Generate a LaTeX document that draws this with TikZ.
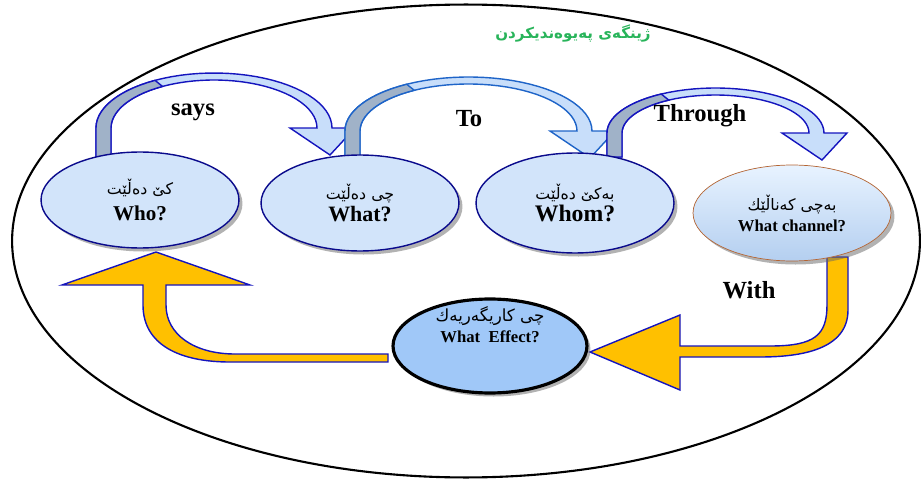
\documentclass[tikz,border=0pt]{standalone}
\usepackage{fontspec}
\setmainfont{Liberation Serif}
\newfontfamily\kurdish[Script=Arabic]{DejaVu Sans}
\TeXXeTstate=1
\usepackage{tikz}
\usetikzlibrary{shapes.geometric,shadows}

\definecolor{nodeblue}{RGB}{210,228,250}
\definecolor{effectblue}{RGB}{160,200,248}
\definecolor{navy}{RGB}{10,10,140}
\definecolor{arrowblue}{RGB}{20,20,190}
\definecolor{arrowsteel}{RGB}{30,100,200}
\definecolor{headblue}{RGB}{200,222,250}
\definecolor{stemgray}{RGB}{160,178,200}
\definecolor{gold}{RGB}{255,192,0}
\definecolor{titlegreen}{RGB}{40,180,90}
\definecolor{brownedge}{RGB}{180,100,50}
\definecolor{glosstop}{RGB}{232,243,255}
\definecolor{glossbottom}{RGB}{180,207,240}

\tikzset{
  stage/.style={ellipse, draw=navy, thick, fill=nodeblue, minimum width=3.96cm,
    minimum height=1.92cm, align=center, inner sep=0pt,
    drop shadow={shadow xshift=2pt, shadow yshift=-2pt, fill=black!60, opacity=0.5}},
  lab/.style={font=\fontsize{14}{16}\selectfont\bfseries},
  bluearrow/.style={thick, fill=headblue},
  goldarrow/.style={draw=arrowblue, thick, fill=gold},
}

\begin{document}
\begin{tikzpicture}[x=0.02cm,y=-0.02cm]
\useasboundingbox (0,0) rectangle (921,480);
%frame
\node[draw, line width=1.2pt, ellipse, minimum width=18.16cm, minimum height=9.46cm, inner sep=0pt] (frame) at (466,241) {};
\node[text=titlegreen, font=\kurdish\fontsize{8.6}{11}\selectfont\bfseries] (title) at (573,33) {\beginR ژینگەی پەیوەندیکردن\endR};
%top arrows
\foreach \l/\t/\h/\b/\col in {96/330/73/128/arrowblue, 345/590/77/131/arrowsteel, 607/822/88/133/arrowblue} {
  \pgfmathsetmacro\cx{(\l+\t+2)/2}
  \pgfmathsetmacro\rx{(\t+2-\l)/2}
  \pgfmathsetmacro\ry{\b-\h}
  \draw[bluearrow, draw=\col] (\l,157) -- (\l,\b)
    -- plot[domain=180:360, samples=40] ({\cx+\rx*cos(\x)},{\b+\ry*sin(\x)})
    -- (\t+25,\b) -- (\t,\b+27) -- (\t-40,\b) -- (\t-13,\b)
    -- plot[domain=360:180, samples=40] ({\cx+(\rx-15)*cos(\x)},{\b+(\ry-7)*sin(\x)})
    -- (\l+15,157) -- cycle;
  \draw[thick, draw=\col, fill=stemgray] (\l,157) -- (\l,\b)
    -- plot[domain=180:240, samples=15] ({\cx+\rx*cos(\x)},{\b+\ry*sin(\x)})
    -- plot[domain=240:180, samples=15] ({\cx+(\rx-15)*cos(\x)},{\b+(\ry-7)*sin(\x)})
    -- (\l+15,157) -- cycle;
}
%bottom arrows
\draw[goldarrow] (848,257) -- (848,310) .. controls (848,350) and (800,357) .. (760,357) -- (680,357)
  -- (680,390) -- (590,352) -- (680,315) -- (680,346) -- (770,346)
  .. controls (815,346) and (827,335) .. (827,305) -- (827,257) -- cycle;
\draw[goldarrow] (388,362) -- (230,362) .. controls (180,362) and (143,345) .. (143,305) -- (143,285)
  -- (62,285) -- (156,252) -- (250,285) -- (166,285) -- (166,305)
  .. controls (166,335) and (195,354) .. (235,354) -- (388,354) -- cycle;
%stages
\node[stage] (who) at (140,200) {{\kurdish\fontsize{9}{11}\selectfont\beginR کێ دەڵێت\endR}\\[3pt]{\fontsize{12}{14}\selectfont\bfseries Who?}};
\node[stage] (what) at (360,203) {{\kurdish\fontsize{9}{11}\selectfont\beginR چی دەڵێت\endR}\\[1pt]{\fontsize{12.5}{14}\selectfont\bfseries What?}};
\node[stage, minimum height=2cm] (whom) at (575,203) {{\kurdish\fontsize{9}{11}\selectfont\beginR بەکێ دەڵێت\endR}\\{\fontsize{13.5}{15}\selectfont\bfseries Whom?}};
\node[stage, draw=brownedge, thin, top color=glosstop, bottom color=glossbottom] (channel) at (792,213) {{\kurdish\fontsize{9}{11}\selectfont\beginR بەچی کەناڵێك\endR}\\{\fontsize{9.5}{11}\selectfont\bfseries What channel?}};
\node[stage, draw=black, line width=1.8pt, fill=effectblue, minimum width=3.88cm, minimum height=1.88cm] (effect) at (490,346) {};
\node[align=center, inner sep=0pt] (effecttext) at ([yshift=12pt]effect.center) {{\kurdish\fontsize{9.5}{11}\selectfont\beginR چی کاریگەریەك\endR}\\{\fontsize{9.5}{11}\selectfont\bfseries What\ \ Effect?}};
%labels
\node[lab] (says) at (193,112) {says};
\node[lab] (to) at (469,119) {To};
\node[lab] (through) at (700,116) {Through};
\node[lab] (with) at (749,290) {With};
\end{tikzpicture}
\end{document}
